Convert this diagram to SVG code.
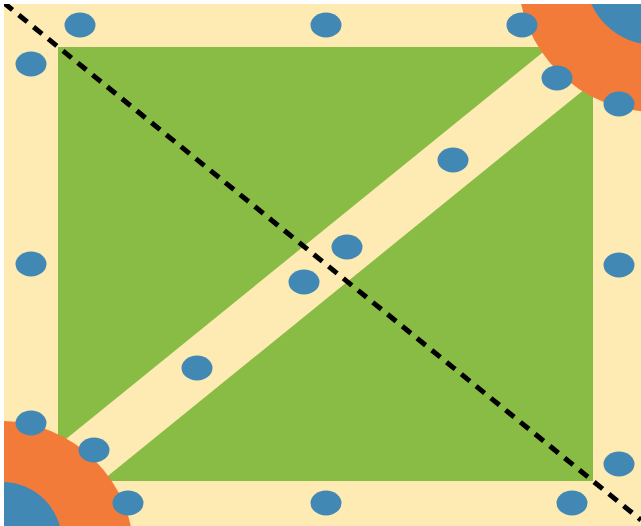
<svg xmlns="http://www.w3.org/2000/svg" width="641" height="526" viewBox="0 0 641 526">
  <style>
    .cream { fill: #FDEBB3; }
    .green { fill: #89BC45; }
    .orange { fill: #F27B3A; }
    .blue { fill: #4288B4; }
    .band { stroke: #FDEBB3; stroke-width: 55; fill: none; }
    .dash { stroke: #000; stroke-width: 5; stroke-dasharray: 11 8; fill: none; }
  </style>
  <defs>
    <clipPath id="frame"><rect x="4" y="4" width="637" height="522"/></clipPath>
    <clipPath id="field"><rect x="58" y="47" width="535" height="434"/></clipPath>
  </defs>
  <rect x="0" y="0" width="641" height="526" fill="#FFFFFF"/>
  <g id="ground" clip-path="url(#frame)">
    <rect class="cream" x="4" y="4" width="637" height="522"/>
    <rect id="field-rect" class="green" x="58" y="47" width="535" height="434"/>
    <line class="band" x1="58" y1="481" x2="593" y2="47" clip-path="url(#field)"/>
    <g id="corner-bl">
      <circle class="orange" cx="0" cy="555" r="134"/>
      <circle class="blue" cx="2" cy="542" r="60"/>
    </g>
    <g id="corner-tr">
      <circle class="orange" cx="655" cy="-25" r="137"/>
      <circle class="blue" cx="655" cy="-25" r="70"/>
    </g>
    <line id="diagonal" class="dash" x1="4" y1="3" x2="641" y2="520"/>
  </g>
  <g id="dots" class="blue">
    <ellipse cx="80" cy="25" rx="15.5" ry="12.5"/>
    <ellipse cx="31" cy="64" rx="15.5" ry="12.5"/>
    <ellipse cx="326" cy="25" rx="15.5" ry="12.5"/>
    <ellipse cx="522" cy="25" rx="15.5" ry="12.5"/>
    <ellipse cx="557" cy="78" rx="15.5" ry="12.5"/>
    <ellipse cx="619" cy="104" rx="15.5" ry="12.5"/>
    <ellipse cx="453" cy="160" rx="15.5" ry="12.5"/>
    <ellipse cx="347" cy="247" rx="15.5" ry="12.5"/>
    <ellipse cx="304" cy="282" rx="15.5" ry="12.5"/>
    <ellipse cx="197" cy="368" rx="15.5" ry="12.5"/>
    <ellipse cx="31" cy="264" rx="15.5" ry="12.5"/>
    <ellipse cx="619" cy="265" rx="15.5" ry="12.5"/>
    <ellipse cx="31" cy="423" rx="15.5" ry="12.5"/>
    <ellipse cx="94" cy="450" rx="15.5" ry="12.5"/>
    <ellipse cx="128" cy="503" rx="15.5" ry="12.5"/>
    <ellipse cx="326" cy="503" rx="15.5" ry="12.5"/>
    <ellipse cx="572" cy="503" rx="15.5" ry="12.5"/>
    <ellipse cx="619" cy="464" rx="15.5" ry="12.5"/>
  </g>
</svg>
